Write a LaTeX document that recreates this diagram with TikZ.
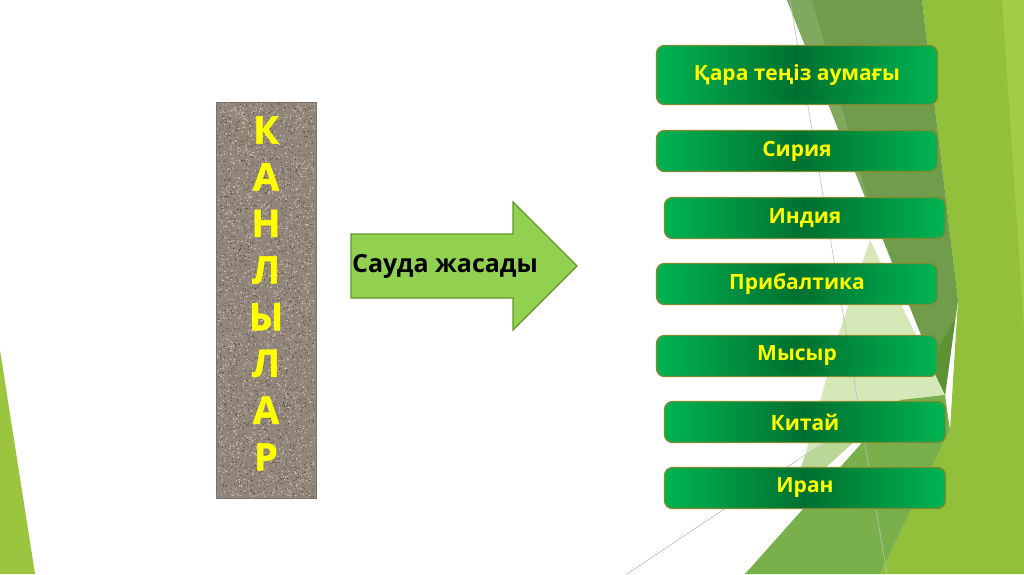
\documentclass[tikz,border=0pt]{standalone}
\usepackage{fontspec}
\newfontfamily\slidefont{Open Sans}
\newfontfamily\letterfont[FakeBold=1.2]{Open Sans}
\usepackage{xcolor}
\usetikzlibrary{positioning,calc}
\definecolor{boxlight}{RGB}{0,180,82}
\definecolor{boxdark}{RGB}{0,112,48}
\definecolor{boxedge}{RGB}{128,138,46}
\definecolor{arrowgreen}{RGB}{146,208,80}
\definecolor{arrowedge}{RGB}{98,150,42}
\definecolor{stonegray}{RGB}{146,134,122}
\definecolor{stonelight}{RGB}{204,194,182}
\definecolor{stonedark}{RGB}{88,78,70}
\definecolor{letteryellow}{RGB}{255,255,0}
\definecolor{facetlime}{RGB}{146,192,58}
\definecolor{facetlimelight}{RGB}{160,204,72}
\definecolor{facetolive}{RGB}{112,156,76}
\definecolor{facetolivelight}{RGB}{128,168,94}
\definecolor{facetdark}{RGB}{92,146,50}
\definecolor{facetmid}{RGB}{122,176,76}
\definecolor{facetpale}{RGB}{214,232,184}
\definecolor{facetline}{RGB}{190,190,190}
\definecolor{cornergreen}{RGB}{155,196,63}

\begin{document}
\begin{tikzpicture}[x=1pt, y=-1pt,
    country/.style={rectangle, draw=boxedge, line width=1.3pt,
                    rounded corners=8pt, left color=boxlight,
                    right color=boxlight, middle color=boxdark,
                    minimum width=281pt, minimum height=41pt, inner sep=0pt,
                    text=letteryellow,
                    font=\slidefont\bfseries\fontsize{21}{25}\selectfont},
    stone/.style={rectangle, draw=stonedark!80, fill=stonegray,
                  minimum width=100pt, minimum height=396pt, inner sep=0pt},
    letter/.style={text=letteryellow, inner sep=0pt,
                   font=\letterfont\bfseries\fontsize{38}{42}\selectfont},
    tradearrow/.style={draw=arrowedge, fill=arrowgreen, line width=1.2pt,
                       line join=miter},
    tradetext/.style={font=\slidefont\bfseries\fontsize{25}{29}\selectfont,
                      text=black},
    facetedge/.style={facetline, line width=0.6pt},
  ]
  \useasboundingbox (0,0) rectangle (1024,574);
  \fill[white] (0,0) rectangle (1024,574);

  % Фон
  \fill[cornergreen] (0,350) -- (35,574) -- (0,574) -- cycle;
  \fill[facetlime] (922,0) -- (1024,0) -- (1024,574) -- (880,574)
    -- (950,430) -- (958,300) -- cycle;
  \fill[facetlimelight] (1002,0) -- (1024,0) -- (1024,330) -- cycle;
  \fill[facetolive] (787,0) -- (922,0) -- (958,300) -- (945,395) -- cycle;
  \fill[facetolivelight] (787,0) -- (812,0) -- (872,215) -- cycle;
  \fill[facetdark] (955,320) -- (945,395) -- (915,385) -- cycle;
  \fill[facetpale] (870,240) -- (945,395) -- (805,455) -- (840,330) -- cycle;
  \fill[facetmid] (745,574) -- (900,400) -- (945,395) -- (950,430)
    -- (880,574) -- cycle;
  \fill[facetpale!70!facetmid] (805,455) -- (900,400) -- (790,500) -- cycle;
  \draw[facetedge] (790,0) -- (887,574);
  \draw[facetedge] (627,574) -- (880,405);

  % Канлылар
  \node[stone] (kanlylar) at (266,300) {};
  \pgfmathsetseed{7}
  \foreach \k in {1,...,2200} {
    \fill[stonelight] ({217.5+97*rnd},{103.5+393*rnd}) circle (0.7pt);
    \fill[stonedark] ({217.5+97*rnd},{103.5+393*rnd}) circle (0.6pt);
  }
  \draw[stonedark!80] (kanlylar.north west) rectangle (kanlylar.south east);
  \foreach \l [count=\i] in {К,А,Н,Л,Ы,Л,А,Р}
    \node[letter] (let\i) at (266,{130+(\i-1)*46.7}) {\l};

  % Көрсеткі
  \draw[tradearrow] (351,234) -- (513,234) -- (513,202) -- (577,266)
    -- (513,330) -- (513,298) -- (351,298) -- cycle;
  \node[tradetext] (sauda) at (445,266) {Сауда жасады};

  % Елдер
  \node[country, minimum height=59pt] (qara) at (797,75) {Қара теңіз аумағы};
  \node[country] (siriya) at (797,151) {Сирия};
  \node[country] (indiya) at (805,218) {Индия};
  \node[country] (pribaltika) at (797,284) {Прибалтика};
  \node[country] (mysyr) at (797,356) {Мысыр};
  \node[country] (kitay) at (805,422) {Китай};
  \node[country] (iran) at (805,488) {Иран};
\end{tikzpicture}
\end{document}
